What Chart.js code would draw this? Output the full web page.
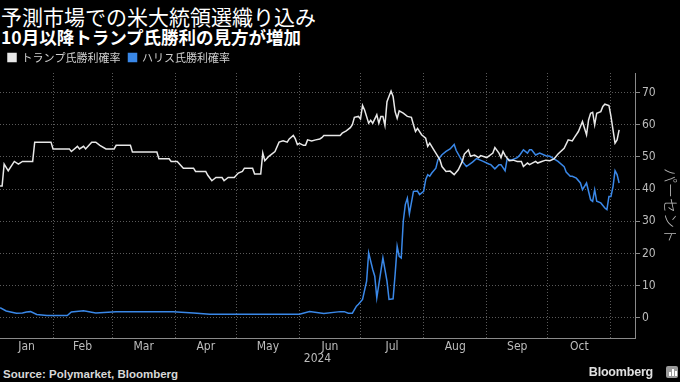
<!DOCTYPE html>
<html lang="ja">
<head>
<meta charset="utf-8">
<script src="https://cdn.jsdelivr.net/npm/chart.js@4.4.1/dist/chart.umd.min.js"></script>
<style>
  html, body { margin: 0; padding: 0; background: #000; }
  body { width: 680px; height: 382px; position: relative; overflow: hidden; font-family: "Noto Sans CJK JP", "Noto Sans", sans-serif; color: #fff; }
  #title { position: absolute; left: 1px; top: 1px; font-size: 21px; line-height: 30px; white-space: nowrap; }
  #subtitle { position: absolute; left: 1px; top: 26px; font-size: 17.5px; font-weight: bold; line-height: 22px; white-space: nowrap; }
  #chart-wrap { position: absolute; left: 0; top: 44px; width: 680px; height: 322px; }
  #source { position: absolute; left: 3px; top: 368px; font-family: "Liberation Sans", sans-serif; font-size: 11.5px; font-weight: bold; color: #d8d8d8; }
  #brand { position: absolute; right: 27px; top: 365px; font-family: "Liberation Sans", sans-serif; font-size: 12.5px; font-weight: bold; color: #e0e0e0; letter-spacing: -0.2px; }
  #logo { position: absolute; right: 2px; top: 366px; width: 12px; height: 12px; border-radius: 2px; background: #9a9a9a; }
  #logo span { position: absolute; bottom: 2px; width: 2px; background: #fff; }
</style>
</head>
<body>
<div id="title">予測市場での米大統領選織り込み</div>
<div id="subtitle">10月以降トランプ氏勝利の見方が増加</div>
<div id="chart-wrap"><canvas id="chart" width="680" height="322"></canvas></div>
<div id="source">Source: Polymarket, Bloomberg</div>
<div id="brand">Bloomberg</div>
<div id="logo"><span style="left:3px;height:4px"></span><span style="left:6px;height:7px"></span><span style="left:9px;height:5px"></span></div>
<script>
// Dias contados desde el 1 de enero de 2024 (0 = 1 ene).
const trumpDays = [
  5, 6, 7, 9, 12, 14, 16, 21, 22, 30,
  31, 39, 40, 43, 44, 46, 47, 50, 52, 54,
  57, 61, 62, 69, 70, 82, 83, 88, 89, 92,
  95, 100, 101, 106, 107, 109, 111, 114, 115, 117,
  120, 122, 124, 125, 129, 130, 133, 134, 135, 137,
  140, 142, 144, 146, 147, 149, 150, 151, 152, 154,
  155, 156, 158, 160, 162, 163, 164, 172, 173, 175,
  177, 178, 179, 181, 182, 183, 184, 186, 187, 188,
  190, 191, 192, 193, 194, 195, 197, 198, 199, 200,
  201, 203, 205, 207, 208, 209, 210, 212, 214, 215,
  216, 218, 219, 221, 222, 224, 226, 228, 230, 232,
  233, 235, 236, 238, 240, 241, 244, 247, 248, 250,
  251, 252, 253, 255, 257, 259, 261, 262, 264, 265,
  268, 269, 271, 273, 275, 277, 279, 282, 284, 286,
  287, 289, 291, 292, 293, 294, 295, 296, 297, 298,
  300, 301, 302, 304, 305, 306, 307, 308, 309
];
const trumpValues = [
  41, 41, 47.8, 45.7, 48.6, 47.8, 48.6, 48.6, 54.6, 54.6,
  52.5, 52.5, 51.7, 53.3, 52.5, 53.3, 52.5, 54.6, 54.6, 53.6,
  52.5, 52.5, 53.6, 53.6, 51.5, 51.5, 49.4, 49.4, 48.6, 48.6,
  46.5, 46.5, 45.5, 45.5, 44.3, 42.6, 43.6, 43.6, 42.6, 43.6,
  43.6, 45, 45.5, 46.5, 46.5, 44.7, 44.7, 51.2, 48.8, 50.2,
  51.7, 54.6, 55, 54.6, 55.6, 56.7, 55.6, 53.8, 54.2, 53.6,
  53.6, 55.3, 55, 55.3, 55.6, 56, 56.7, 56.7, 57.4, 58.1,
  59.1, 60, 62.3, 62.6, 61.8, 66, 64.6, 60.5, 61.4, 60.5,
  63.1, 60.5, 62.6, 62.6, 59.8, 67.2, 70.5, 68.8, 64.1, 62,
  64.3, 63.6, 62.6, 62.3, 60, 57.9, 58.9, 56.9, 55.8, 53.3,
  54.3, 52.2, 51.2, 49.1, 47, 45.5, 45.6, 44.5, 46, 48.6,
  50.9, 52.2, 50.2, 50.6, 49.8, 50.4, 49.8, 51.2, 52.9, 51.2,
  49.8, 51.7, 50.5, 48.8, 49, 48.6, 48.6, 47, 48.1, 47.6,
  48.6, 48.1, 48.6, 49, 48.8, 49.4, 50.9, 52.7, 55.3, 55,
  56, 57.9, 61, 58.9, 56.9, 61.5, 63.6, 63.9, 60, 63.6,
  64.1, 65.7, 66.4, 66, 62.6, 58.4, 54.3, 55.3, 58.4
];

const harrisDays = [
  5, 8, 13, 16, 18, 20, 23, 28, 38, 40,
  46, 52, 62, 74, 90, 100, 108, 152, 157, 164,
  172, 174, 176, 178, 180, 181, 183, 185, 186, 188,
  189, 190, 192, 193, 195, 196, 198, 199, 200, 201,
  202, 203, 204, 205, 206, 208, 210, 211, 213, 214,
  215, 216, 217, 219, 220, 222, 224, 226, 228, 229,
  232, 234, 237, 239, 242, 245, 246, 248, 250, 251,
  253, 254, 256, 259, 260, 262, 264, 265, 266, 268,
  270, 273, 275, 277, 279, 282, 283, 285, 286, 288,
  290, 291, 293, 295, 296, 297, 298, 300, 302, 303,
  304, 305, 306, 307, 308, 309
];
const harrisValues = [
  3.1, 2.1, 1.4, 1.5, 1.8, 1.9, 1.0, 0.7, 0.7, 1.8,
  2.2, 1.5, 1.9, 1.9, 1.9, 1.5, 1.1, 1.1, 1.9, 1.3,
  1.9, 1.9, 1.4, 1.4, 3.6, 4.2, 5.7, 11.4, 20.2, 15,
  12.9, 6.2, 14.5, 18.6, 11.4, 5.7, 5.9, 13.5, 22.2, 19.1,
  18.6, 30, 35.2, 37.2, 32.3, 39.3, 39.4, 38.3, 39.3, 42.9,
  44.5, 44, 45, 46.5, 49.1, 50.7, 51.7, 52.5, 53.9, 52,
  48.6, 47, 48.4, 49.5, 48.7, 47.8, 47.6, 46.3, 47.6, 47.6,
  45.7, 49.4, 49, 49.8, 50.4, 52.2, 51.2, 52.2, 52.2, 50.6,
  51.2, 50.4, 50.2, 49.4, 48.6, 47, 45.3, 44, 44, 43.4,
  41.9, 39.8, 41.9, 36.7, 36.2, 39.8, 36.2, 35.7, 34.1, 33.6,
  37.7, 37.7, 40.8, 45.7, 44.5, 41.9
];

// Limites de mes (dia del año) y etiquetas.
const monthStarts = [31, 60, 91, 121, 152, 182, 213, 244, 274, 305];
const monthLabelDays = [18, 45.5, 75.5, 106, 136.5, 167, 197.5, 228.5, 259, 289.5];
const monthNames = ['Jan', 'Feb', 'Mar', 'Apr', 'May', 'Jun', 'Jul', 'Aug', 'Sep', 'Oct'];
const yTicks = [0, 10, 20, 30, 40, 50, 60, 70];

const seriesNames = ['トランプ氏勝利確率', 'ハリス氏勝利確率'];
const trumpColor = '#e8e8e8';
const harrisColor = '#3a88e8';
const axisFont = "'Liberation Sans Narrow', 'DejaVu Sans Condensed', 'Liberation Sans', sans-serif";

function toPoints(days, values) {
  return days.map((d, i) => ({ x: d, y: values[i] }));
}

function isMonthStart(value) {
  return monthStarts.indexOf(value) !== -1;
}

new Chart(document.getElementById('chart'), {
  type: 'line',
  data: {
    datasets: [
      {
        label: seriesNames[0],
        data: toPoints(trumpDays, trumpValues),
        borderColor: trumpColor,
        backgroundColor: trumpColor,
        borderWidth: 1.5,
        pointRadius: 0,
        tension: 0
      },
      {
        label: seriesNames[1],
        data: toPoints(harrisDays, harrisValues),
        borderColor: harrisColor,
        backgroundColor: harrisColor,
        borderWidth: 1.5,
        pointRadius: 0,
        tension: 0
      }
    ]
  },
  options: {
    responsive: false,
    animation: false,
    devicePixelRatio: 1,
    layout: { padding: 0 },
    plugins: {
      legend: {
        display: true,
        align: 'start',
        labels: {
          color: '#d0d0d0',
          boxWidth: 8,
          boxHeight: 8,
          padding: 8,
          font: { family: "'Noto Sans CJK JP', sans-serif", size: 11 }
        }
      },
      tooltip: { enabled: false }
    },
    scales: {
      x: {
        type: 'linear',
        min: 4.96,
        max: 316.8,
        afterBuildTicks(scale) {
          const all = monthStarts.concat(monthLabelDays).sort((a, b) => a - b);
          scale.ticks = all.map((v) => ({ value: v }));
        },
        afterFit(scale) {
          scale.height = 28;
        },
        ticks: {
          autoSkip: false,
          maxRotation: 0,
          padding: 2,
          color: '#bdbdbd',
          font: { family: axisFont, size: 12 },
          callback(value) {
            const idx = monthLabelDays.indexOf(value);
            return idx === -1 ? '' : monthNames[idx];
          }
        },
        grid: {
          drawTicks: false,
          color: (ctx) => (ctx.tick && isMonthStart(ctx.tick.value) ? '#5a5a5a' : 'rgba(0,0,0,0)'),
          lineWidth: 1
        },
        border: { display: true, color: '#8a8a8a', width: 1, dash: [1, 2] },
        title: {
          display: true,
          text: '2024',
          color: '#bdbdbd',
          padding: 0,
          font: { family: axisFont, size: 12 }
        }
      },
      y: {
        position: 'right',
        min: -6.3,
        max: 76.1,
        afterBuildTicks(scale) {
          scale.ticks = yTicks.map((v) => ({ value: v }));
        },
        afterFit(scale) {
          scale.width = 45;
        },
        ticks: {
          padding: 2,
          color: '#bdbdbd',
          font: { family: axisFont, size: 12 }
        },
        grid: {
          color: '#5a5a5a',
          tickColor: '#8a8a8a',
          tickLength: 5,
          tickBorderDash: [],
          lineWidth: 1
        },
        border: { display: true, color: '#8a8a8a', width: 1, dash: [1, 2] },
        title: {
          display: true,
          text: 'パーセント',
          color: '#bdbdbd',
          padding: { top: 0, bottom: 0 },
          font: { family: "'Noto Sans CJK JP', sans-serif", size: 15, weight: '300' }
        }
      }
    }
  }
});
</script>
</body>
</html>
